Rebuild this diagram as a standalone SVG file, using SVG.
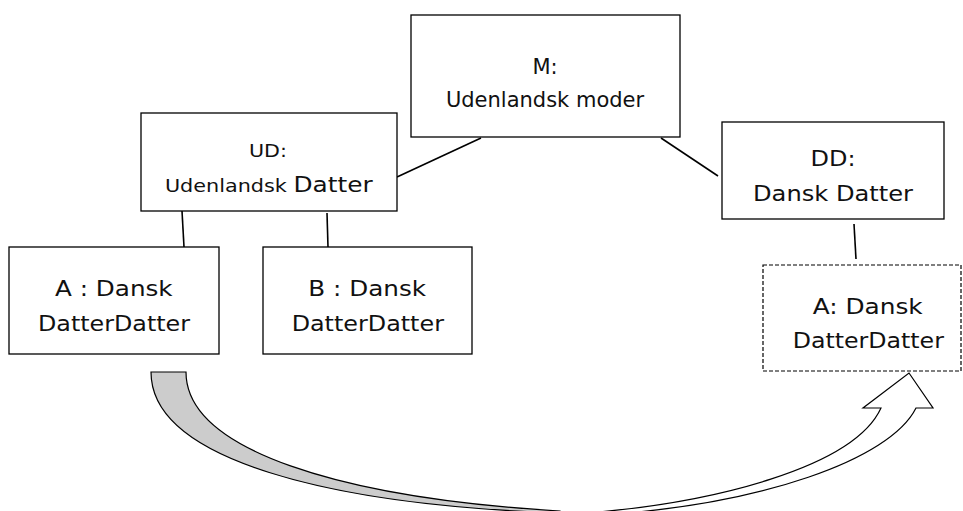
<svg xmlns="http://www.w3.org/2000/svg" width="963" height="511" viewBox="0 0 963 511">
<style>
.box{fill:#fff;stroke:#000;stroke-width:1.3}
.dash{fill:#fff;stroke:#000;stroke-width:1.2;stroke-dasharray:4 2}
.lbl{font-family:"DejaVu Sans","Verdana",sans-serif;font-size:21px;fill:#111;text-anchor:middle}
.con line{stroke:#000;stroke-width:1.6}
.arr{stroke:#000;stroke-width:1.2;stroke-linejoin:miter}
</style>
<rect width="963" height="511" fill="#fff"/>
<g id="connectors" class="con">
<line x1="481" y1="138" x2="397" y2="177"/>
<line x1="661" y1="138" x2="718" y2="176"/>
<line x1="182" y1="211" x2="184" y2="247"/>
<line x1="327" y1="213" x2="328" y2="247"/>
<line x1="854" y1="224" x2="856" y2="259"/>
</g>
<g id="node-M">
<rect class="box" x="411" y="15" width="269" height="122"/>
<text class="lbl" x="545" y="73.5">M:</text>
<text class="lbl" x="545" y="106.7">Udenlandsk moder</text>
</g>
<g id="node-UD">
<rect class="box" x="141" y="113" width="256" height="98"/>
<text class="lbl" x="268" y="157.3" style="font-size:18px" textLength="38" lengthAdjust="spacingAndGlyphs">UD:</text>
<text class="lbl" x="268.8" y="191.7" textLength="207.7" lengthAdjust="spacingAndGlyphs"><tspan style="font-size:18px">Udenlandsk </tspan><tspan style="font-size:21.5px">Datter</tspan></text>
</g>
<g id="node-DD">
<rect class="box" x="722" y="122" width="222" height="97"/>
<text class="lbl" x="833" y="165.7" textLength="45" lengthAdjust="spacingAndGlyphs">DD:</text>
<text class="lbl" x="833" y="200.7" textLength="160" lengthAdjust="spacingAndGlyphs">Dansk Datter</text>
</g>
<g id="node-A">
<rect class="box" x="9" y="247" width="210" height="107"/>
<text class="lbl" x="113.8" y="296" textLength="117.7" lengthAdjust="spacingAndGlyphs">A : Dansk</text>
<text class="lbl" x="114" y="330.7" textLength="152" lengthAdjust="spacingAndGlyphs">DatterDatter</text>
</g>
<g id="node-B">
<rect class="box" x="263" y="247" width="209" height="107"/>
<text class="lbl" x="367.2" y="296" textLength="117.7" lengthAdjust="spacingAndGlyphs">B : Dansk</text>
<text class="lbl" x="367.8" y="330.7" textLength="152.3" lengthAdjust="spacingAndGlyphs">DatterDatter</text>
</g>
<g id="node-A2">
<rect class="dash" x="763" y="265" width="198" height="106"/>
<text class="lbl" x="867.7" y="314" textLength="110" lengthAdjust="spacingAndGlyphs">A: Dansk</text>
<text class="lbl" x="868.3" y="348.3" textLength="151.3" lengthAdjust="spacingAndGlyphs">DatterDatter</text>
</g>
<g id="curved-arrow">
<path class="arr" fill="#cccccc" d="M151,372 L186,372 C186,450 340,498 560,511 L560,513 C330,505 151,460 151,372 Z"/>
<path class="arr" fill="#fff" d="M560,515 C720,505 855,465 881,408 L863,408 L909,373 L933,408 L916,408 C890,460 760,505 600,515 Z"/>
</g>
</svg>
